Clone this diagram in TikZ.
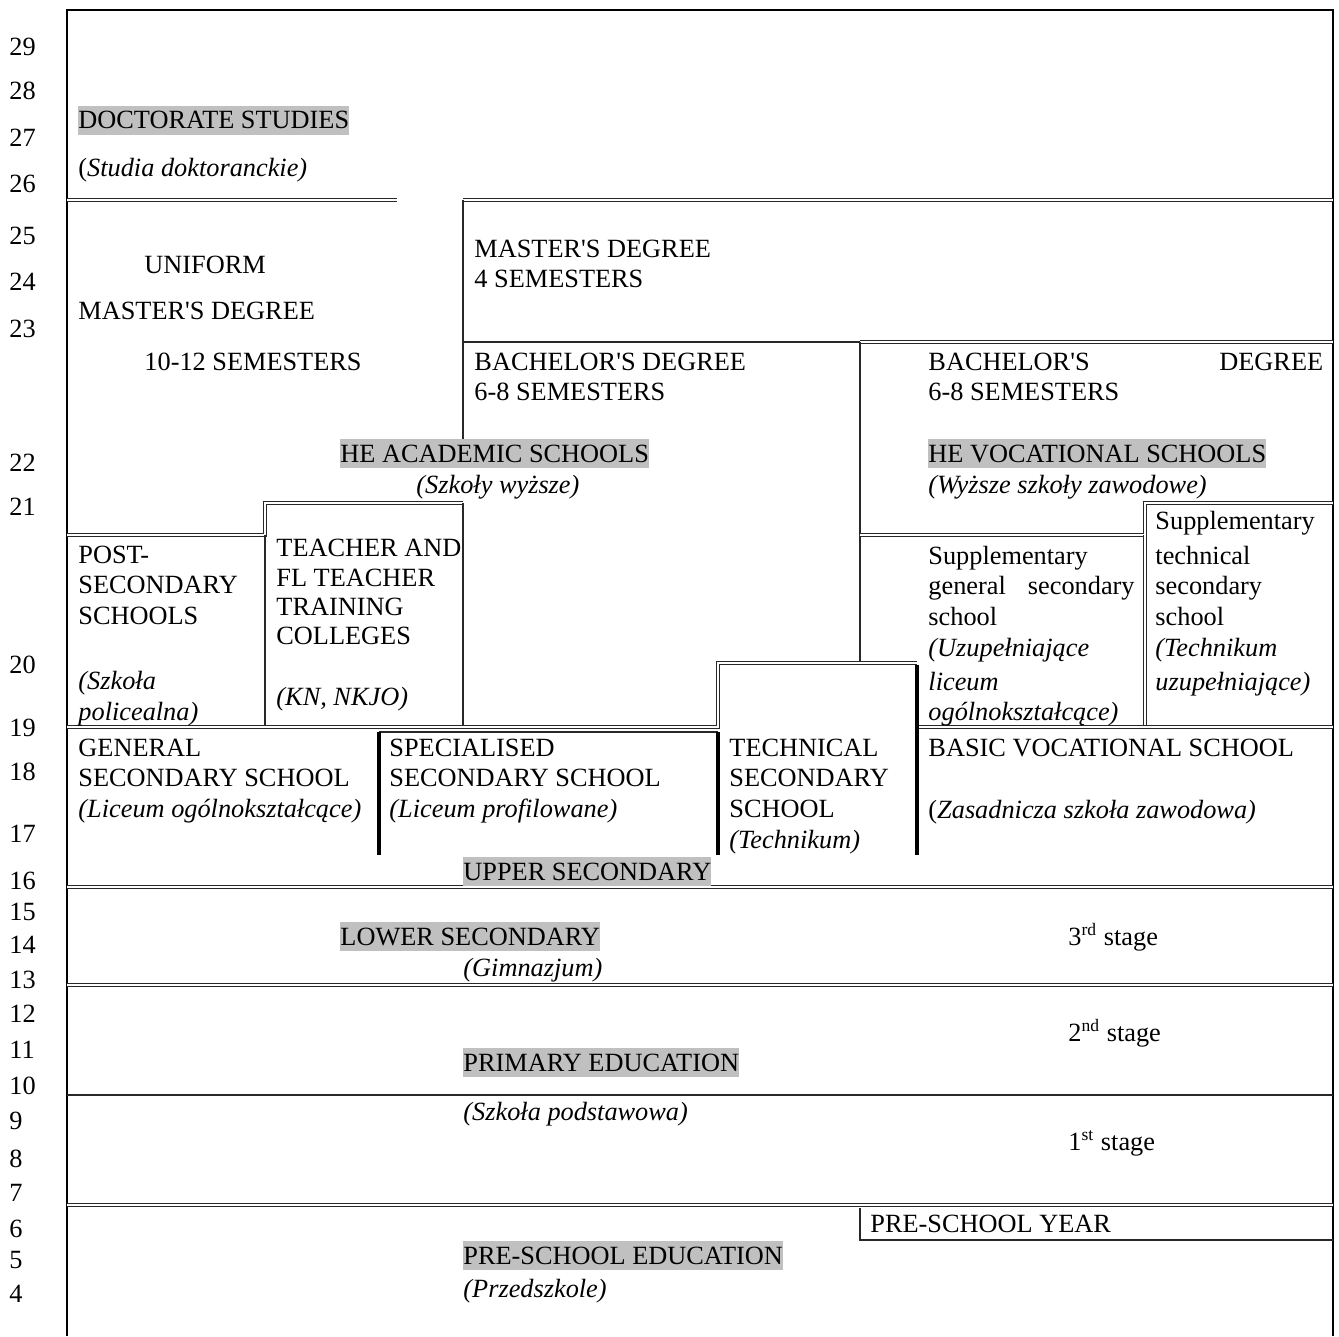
\documentclass[tikz,border=0pt]{standalone}
\usepackage{fontspec}
\setmainfont{Liberation Serif}[Ligatures=TeXOff]
\definecolor{hlgray}{RGB}{192,192,192}
\definecolor{lineclr}{RGB}{40,40,40}
\begin{document}
\begin{tikzpicture}[x=0.456pt,y=-0.456pt,
  txt/.style={anchor=base west, inner sep=0pt, font=\fontsize{12}{13.8}\selectfont},
  itx/.style={txt, font=\fontsize{12}{13.8}\selectfont\itshape},
  hl/.style={txt, fill=hlgray, text height=10.7pt, text depth=2.6pt},
  yr/.style={anchor=base west, inner sep=0pt, font=\fontsize{12}{13.8}\selectfont},
  frame/.style={line width=0.9pt, draw=black},
  sgl/.style={line width=0.6pt, draw=lineclr},
  dbl/.style={draw=lineclr, line width=0.45pt, double=white, double distance=0.7pt},
  thk/.style={line width=1.8pt, draw=black}]
\useasboundingbox (0,0) rectangle (1339,1336);
\fill[white] (0,0) rectangle (1339,1336);
% frame
\draw[frame] (67,1336) -- (67,10) -- (1333,10) -- (1333,1336);
% higher education
\draw[dbl] (67,200) -- (397,200);
\draw[dbl] (463,200) -- (1333,200);
\draw[sgl] (463,200) -- (463,440);
\draw[sgl] (463,342) -- (860,342);
\draw[dbl] (860,342) -- (1333,342);
\draw[sgl] (860,342) -- (860,663);
\draw[dbl] (860,535) -- (1145,535) -- (1145,503) -- (1333,503);
\draw[dbl] (1145,535) -- (1145,727);
\draw[dbl] (67,535) -- (265,535) -- (265,503) -- (463,503);
\draw[sgl] (265,535) -- (265,727);
\draw[sgl] (463,503) -- (463,727);
% upper secondary
\draw[dbl] (67,727) -- (718,727) -- (718,663) -- (917,663);
\draw[dbl] (917,727) -- (1333,727);
\draw[sgl] (379,732) -- (718,732);
\draw[thk] (917,665) -- (917,855);
\draw[thk] (379,732) -- (379,855);
\draw[thk] (718,732) -- (718,855);
% lower levels
\draw[dbl] (67,887) -- (1333,887);
\draw[dbl] (67,985) -- (1333,985);
\draw[sgl] (67,1095) -- (1333,1095);
\draw[dbl] (67,1205) -- (1333,1205);
\draw[sgl] (860,1208) -- (860,1240) -- (1333,1240);
% years
\foreach \n/\y in {29/47,28/91,27/138,26/184,25/235,24/281,23/328,22/462,21/506,20/664,19/727,18/771,17/833,16/880,15/911,14/944,13/979,12/1013,11/1049,10/1085,9/1120,8/1158,7/1192,6/1228,5/1259,4/1293}
  \node[yr] (y\n) at (9,\y+9) {\n};
% doctorate
\node[hl] (doc) at (78,129) {DOCTORATE STUDIES};
\node[txt] (docpl) at (78,177) {(\textit{Studia doktoranckie)}};
% uniform master
\node[txt] (um1) at (144,273) {UNIFORM};
\node[txt] (um2) at (78,319) {MASTER'S DEGREE};
\node[txt] (um3) at (144,370) {10-12 SEMESTERS};
% master
\node[txt] (md1) at (474,257) {MASTER'S DEGREE};
\node[txt] (md2) at (474,287) {4 SEMESTERS};
% bachelor academic
\node[txt] (ba1) at (474,370) {BACHELOR'S DEGREE};
\node[txt] (ba2) at (474,400) {6-8 SEMESTERS};
% bachelor vocational
\node[txt] (bv1) at (928,370) {\hbox to 180pt{BACHELOR'S\hfill DEGREE}};
\node[txt] (bv2) at (928,400) {6-8 SEMESTERS};
\node[hl] (hea) at (340,462) {HE ACADEMIC SCHOOLS};
\node[itx] (heapl) at (416,493) {(Szkoły wyższe)};
\node[hl] (hev) at (928,462) {HE VOCATIONAL SCHOOLS};
\node[itx] (hevpl) at (928,493) {(Wyższe szkoły zawodowe)};
% post-secondary
\node[txt] (ps1) at (78,563) {POST-};
\node[txt] (ps2) at (78,593) {SECONDARY};
\node[txt] (ps3) at (78,624) {SCHOOLS};
\node[itx] (ps4) at (78,689) {(Szkoła};
\node[itx] (ps5) at (78,720) {policealna)};
% teacher training
\node[txt] (tt1) at (276,556) {TEACHER AND};
\node[txt] (tt2) at (276,586) {FL TEACHER};
\node[txt] (tt3) at (276,615) {TRAINING};
\node[txt] (tt4) at (276,644) {COLLEGES};
\node[itx] (tt5) at (276,705) {(KN, NKJO)};
% supplementary general
\node[txt] (sg1) at (928,564) {Supplementary};
\node[txt] (sg2) at (928,594) {\hbox to 94pt{general\hfill secondary}};
\node[txt] (sg3) at (928,625) {school};
\node[itx] (sg4) at (928,656) {(Uzupełniające};
\node[itx] (sg5) at (928,690) {liceum};
\node[itx] (sg6) at (928,720) {ogólnokształcące)};
% supplementary technical
\node[txt] (st1) at (1155,529) {Supplementary};
\node[txt] (st2) at (1155,564) {technical};
\node[txt] (st3) at (1155,594) {secondary};
\node[txt] (st4) at (1155,625) {school};
\node[itx] (st5) at (1155,656) {(Technikum};
\node[itx] (st6) at (1155,690) {uzupełniające)};
% general secondary
\node[txt] (gs1) at (78,756) {GENERAL};
\node[txt] (gs2) at (78,786) {SECONDARY SCHOOL};
\node[itx] (gs3) at (78,817) {(Liceum ogólnokształcące)};
% specialised
\node[txt] (sp1) at (389,756) {SPECIALISED};
\node[txt] (sp2) at (389,786) {SECONDARY SCHOOL};
\node[itx] (sp3) at (389,817) {(Liceum profilowane)};
% technical
\node[txt] (te1) at (729,756) {TECHNICAL};
\node[txt] (te2) at (729,786) {SECONDARY};
\node[txt] (te3) at (729,817) {SCHOOL};
\node[itx] (te4) at (729,848) {(Technikum)};
% basic vocational
\node[txt] (bvs) at (928,756) {BASIC VOCATIONAL SCHOOL};
\node[txt] (bvspl) at (928,818) {(\textit{Zasadnicza szkoła zawodowa)}};
\node[hl] (ups) at (463,880) {UPPER SECONDARY};
% lower secondary
\node[hl] (lws) at (340,945) {LOWER SECONDARY};
\node[itx] (lwspl) at (463,976) {(Gimnazjum)};
\node[txt] (s3) at (1068,945) {3\textsuperscript{rd} stage};
% primary
\node[txt] (s2) at (1068,1041) {2\textsuperscript{nd} stage};
\node[hl] (pri) at (463,1071) {PRIMARY EDUCATION};
\node[itx] (pripl) at (463,1120) {(Szkoła podstawowa)};
\node[txt] (s1) at (1068,1150) {1\textsuperscript{st} stage};
% pre-school
\node[txt] (psy) at (870,1232) {PRE-SCHOOL YEAR};
\node[hl] (pse) at (463,1264) {PRE-SCHOOL EDUCATION};
\node[itx] (psepl) at (463,1297) {(Przedszkole)};
\end{tikzpicture}
\end{document}
